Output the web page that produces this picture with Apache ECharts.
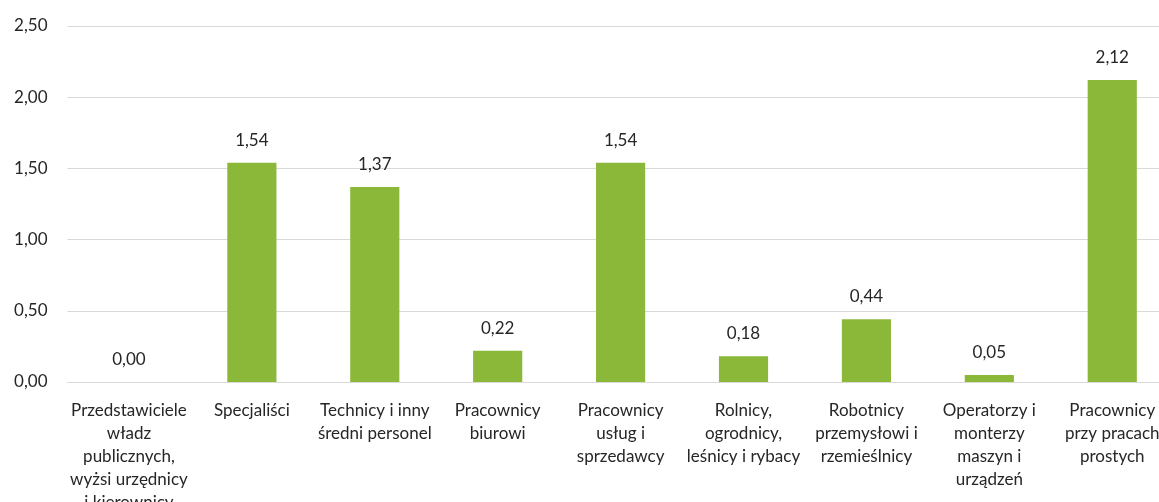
<!DOCTYPE html>
<html>
<head>
<meta charset="utf-8">
<script src="https://cdn.jsdelivr.net/npm/echarts@6/dist/echarts.min.js"></script>
<style>
html,body{margin:0;padding:0;background:#fff;}
#c{width:1159px;height:502px;}
</style>
</head>
<body>
<div id="c"></div>
<script>
const categories = [
  "Przedstawiciele\nwładz\npublicznych,\nwyżsi urzędnicy\ni kierownicy",
  "Specjaliści",
  "Technicy i inny\nśredni personel",
  "Pracownicy\nbiurowi",
  "Pracownicy\nusług i\nsprzedawcy",
  "Rolnicy,\nogrodnicy,\nleśnicy i rybacy",
  "Robotnicy\nprzemysłowi i\nrzemieślnicy",
  "Operatorzy i\nmonterzy\nmaszyn i\nurządzeń",
  "Pracownicy\nprzy pracach\nprostych"
];
const values = [0.00, 1.54, 1.37, 0.22, 1.54, 0.18, 0.44, 0.05, 2.12];
const yMin = 0, yMax = 2.5, yStep = 0.5;

const fmt = v => Number(v).toFixed(2).replace('.', ',');
const font = 'Lato, "Open Sans", sans-serif';

const chart = echarts.init(document.getElementById('c'), null, {renderer: 'canvas'});
chart.setOption({
  animation: false,
  grid: {left: 67.5, right: -14.7, top: 26, bottom: 120, containLabel: false, outerBoundsMode: 'none'},
  xAxis: {
    type: 'category',
    data: categories,
    axisLine: {show: true, lineStyle: {color: '#D9D9D9', width: 1}},
    axisTick: {show: false},
    axisLabel: {
      interval: 0, margin: 17, color: '#262626', fontSize: 17, fontFamily: font,
      lineHeight: 23, align: 'center', verticalAlign: 'top'
    }
  },
  yAxis: {
    type: 'value', min: yMin, max: yMax, interval: yStep,
    axisLine: {show: false}, axisTick: {show: false},
    splitLine: {lineStyle: {color: '#D9D9D9', width: 1}},
    axisLabel: {formatter: fmt, color: '#262626', fontSize: 17, fontFamily: font, margin: 20}
  },
  series: [{
    type: 'bar',
    data: values,
    barWidth: '40%',
    itemStyle: {color: '#8CB83A'},
    label: {
      show: true, position: 'top', distance: 14, formatter: p => fmt(p.value),
      color: '#262626', fontSize: 17, fontFamily: font
    }
  }]
});
</script>
</body>
</html>
